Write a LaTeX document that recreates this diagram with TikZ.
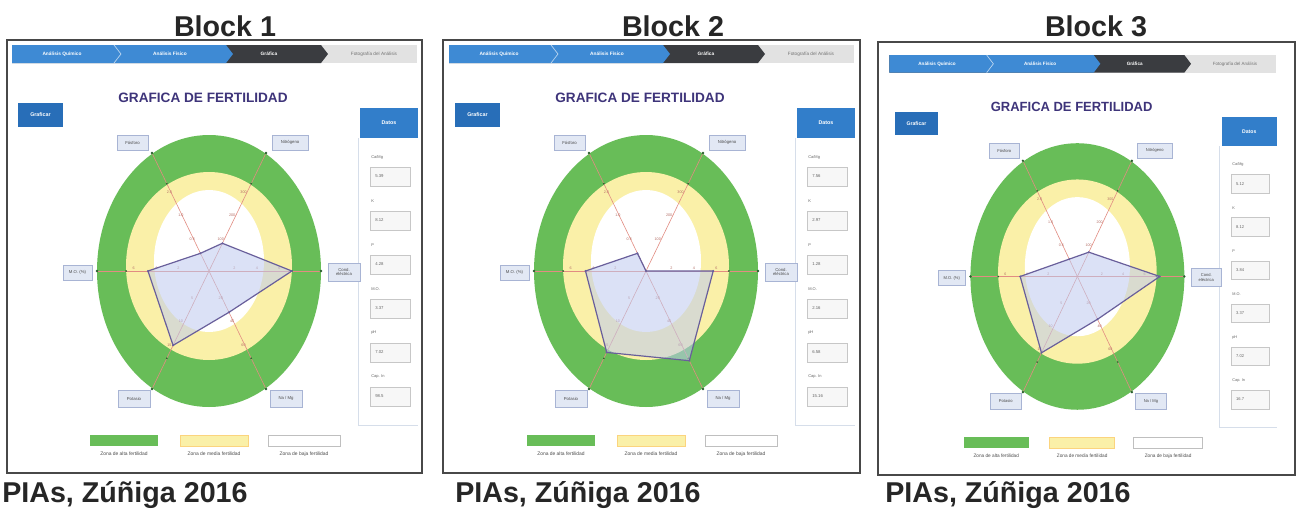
\documentclass[tikz,border=0pt]{standalone}
\usepackage{fontspec}
\setmainfont{Liberation Sans}
\usetikzlibrary{calc}
\definecolor{gring}{RGB}{104,189,88}
\definecolor{yring}{RGB}{250,240,168}
\definecolor{bblue}{RGB}{62,138,212}
\definecolor{btn}{RGB}{40,110,184}
\definecolor{btnb}{RGB}{50,126,202}
\definecolor{darkseg}{RGB}{58,60,64}
\definecolor{greyseg}{RGB}{226,226,226}
\definecolor{ttl}{RGB}{62,52,122}
\definecolor{axisc}{RGB}{226,140,130}
\definecolor{polyl}{RGB}{105,95,155}
\definecolor{polyf}{RGB}{190,202,240}
\definecolor{lblf}{RGB}{226,232,244}
\definecolor{lbld}{RGB}{168,180,212}
\definecolor{framec}{RGB}{72,72,72}
\definecolor{capc}{RGB}{38,38,38}
\definecolor{dotc}{RGB}{40,95,45}
\definecolor{panelc}{RGB}{214,222,234}
\tikzset{
  bigtxt/.style={font=\bfseries\fontsize{21.5}{24}\selectfont, text=capc, inner sep=0pt},
  crumb/.style={font=\bfseries\fontsize{3.6}{4}\selectfont, text=white, inner sep=0pt},
  crumbgrey/.style={font=\fontsize{3.5}{4}\selectfont, text=black!55, inner sep=0pt},
  titletxt/.style={font=\bfseries\fontsize{10.2}{12}\selectfont, text=ttl, inner sep=0pt},
  btntxt/.style={font=\bfseries\fontsize{4}{4.5}\selectfont, text=white, inner sep=0pt},
  fieldlbl/.style={font=\fontsize{3}{3.5}\selectfont, text=black!60, inner sep=0pt},
  fieldval/.style={font=\fontsize{3.2}{3.6}\selectfont, text=black!60, inner sep=0pt},
  fieldbox/.style={fill=black!3, draw=black!22, line width=0.35pt},
  lblbox/.style={fill=lblf, draw=lbld, line width=0.4pt},
  axtxt/.style={font=\fontsize{3.2}{3.5}\selectfont, text=black!70, inner sep=0pt, align=center},
  ticktxt/.style={font=\fontsize{2.8}{3}\selectfont, text=axisc!80!black, inner sep=0pt},
  legtxt/.style={font=\fontsize{3.7}{4}\selectfont, text=black!70, inner sep=0pt},
  axisline/.style={draw=axisc, line width=0.45pt},
  polystyle/.style={draw=polyl, line width=0.9pt, fill=polyf, fill opacity=0.55, line join=round},
  panelline/.style={draw=panelc, line width=0.5pt},
  framestyle/.style={fill=white, draw=framec, line width=1.4pt},
}
\newcommand{\fieldlabel}[1]{\ifcase#1\or Ca/Mg\or K\or P\or M.O.\or pH\or Cap. In\fi}
% #1..#6: fractions on axes L, UL, UR, R, LR, LL ; #7: six values
\newcommand{\fertscreen}[7]{%
  % breadcrumb bar
  \fill[greyseg] (12,45) rectangle (417,63);
  \fill[darkseg] (12,45) -- (321,45) -- (328,54) -- (321,63) -- (12,63) -- cycle;
  \fill[bblue] (12,45) -- (226,45) -- (233,54) -- (226,63) -- (12,63) -- cycle;
  \draw[white!65!bblue, line width=0.5pt] (114,45) -- (121,54) -- (114,63);
  \node[crumb] (c1) at (62,54) {Análisis Químico};
  \node[crumb] (c2) at (170,54) {Análisis Físico};
  \node[crumb] (c3) at (269,54) {Gráfica};
  \node[crumbgrey] (c4) at (374,54) {Fotografía del Análisis};
  % title and buttons
  \node[titletxt] (title) at (203,97.5) {GRAFICA DE FERTILIDAD};
  \fill[btn] (18,103) rectangle (63,127);
  \node[btntxt] (graf) at (40.5,115) {Graficar};
  \fill[btnb] (360,108) rectangle (418,138);
  \node[btntxt] (datos) at (389,123) {Datos};
  % data panel
  \draw[panelline] (358,138) -- (358,425) -- (418,425);
  \foreach \v [count=\i] in {#7} {
    \pgfmathsetmacro\yy{44*(\i-1)}
    \node[fieldlbl, anchor=west] (fl\i) at (371,157+\yy) {\fieldlabel{\i}};
    \draw[fieldbox] (370,167+\yy) rectangle (410,186+\yy);
    \node[fieldval, anchor=west] (fv\i) at (375,176.5+\yy) {\v};
  }
  % fertility zones
  \fill[gring] (209,271) ellipse [x radius=112, y radius=136];
  \fill[yring] (209,266) ellipse [x radius=83, y radius=94];
  \fill[white] (209,261) ellipse [x radius=55, y radius=71];
  % axes
  \coordinate (C) at (209,271);
  \coordinate (eL) at (97,271);
  \coordinate (eR) at (321,271);
  \coordinate (eUL) at (152,153);
  \coordinate (eUR) at (266,153);
  \coordinate (eLL) at (152,389);
  \coordinate (eLR) at (266,389);
  \draw[axisline] (eL) -- (eR);
  \draw[axisline] (eUL) -- (eLR);
  \draw[axisline] (eUR) -- (eLL);
  \foreach \e in {eL,eR,eUL,eUR,eLL,eLR} {
    \fill[dotc] (\e) circle [radius=1.4];
    \fill[dotc] ($(C)!0.74!(\e)$) circle [radius=0.9];
  }
  \foreach \e/\a/\b/\c in {eR/2/4/6, eL/2/4/6, eUL/0.5/1.0/2.0, eUR/100/200/300, eLL/5/10/15, eLR/20/40/60} {
    \node[ticktxt] (tk\e a) at ($(C)!0.25!(\e)+(-2.5,-2.5)$) {\a};
    \node[ticktxt] (tk\e b) at ($(C)!0.45!(\e)+(-2.5,-2.5)$) {\b};
    \node[ticktxt] (tk\e c) at ($(C)!0.65!(\e)+(-2.5,-2.5)$) {\c};
  }
  % data polygon
  \coordinate (vL) at ($(C)!#1!(eL)$);
  \coordinate (vUL) at ($(C)!#2!(eUL)$);
  \coordinate (vUR) at ($(C)!#3!(eUR)$);
  \coordinate (vR) at ($(C)!#4!(eR)$);
  \coordinate (vLR) at ($(C)!#5!(eLR)$);
  \coordinate (vLL) at ($(C)!#6!(eLL)$);
  \filldraw[polystyle] (vL) -- (vUL) -- (vUR) -- (vR) -- (vLR) -- (vLL) -- cycle;
  \foreach \p in {vL,vUL,vUR,vR,vLR,vLL} {\fill[polyl] (\p) circle [radius=1.1];}
  % axis labels
  \draw[lblbox] (117,135) rectangle (148,150);
  \node[axtxt] (aUL) at (132.5,142.5) {Fósforo};
  \draw[lblbox] (272,135) rectangle (308,150);
  \node[axtxt] (aUR) at (290,142.5) {Nitrógeno};
  \draw[lblbox] (63,265) rectangle (92,280);
  \node[axtxt] (aL) at (77.5,272.5) {M.O. (\%)};
  \draw[lblbox] (328,263) rectangle (360,281);
  \node[axtxt] (aR) at (344,272) {Cond.\\eléctrica};
  \draw[lblbox] (118,390) rectangle (150,407);
  \node[axtxt] (aLL) at (134,398.5) {Potasio};
  \draw[lblbox] (270,390) rectangle (302,407);
  \node[axtxt] (aLR) at (286,398.5) {Na / Mg};
  % legend
  \fill[gring] (90,435) rectangle (158,446);
  \filldraw[fill=yring, draw=yring!75!orange, line width=0.35pt] (180,435) rectangle (248,446);
  \filldraw[fill=white, draw=black!25, line width=0.4pt] (268,435) rectangle (340,446);
  \node[legtxt] (lg1) at (124,454) {Zona de alta fertilidad};
  \node[legtxt] (lg2) at (214,454) {Zona de media fertilidad};
  \node[legtxt] (lg3) at (304,454) {Zona de baja fertilidad};
}
\begin{document}
\begin{tikzpicture}[x=0.75pt,y=-0.75pt]
\useasboundingbox (0,0) rectangle (1297,508);
\fill[white] (0,0) rectangle (1297,508);
% headings
\node[bigtxt, anchor=base] (h1) at (225,36) {Block 1};
\node[bigtxt, anchor=base] (h2) at (673,36) {Block 2};
\node[bigtxt, anchor=base] (h3) at (1096,36) {Block 3};
% frames
\filldraw[framestyle] (7,40) rectangle (422,473);
\filldraw[framestyle] (443,40) rectangle (860,473);
\filldraw[framestyle] (878,42) rectangle (1295,475);
% screens
\begin{scope}[name prefix=b1-]
  \fertscreen{0.545}{0.15}{0.235}{0.74}{0.35}{0.63}{5.39,8.12,4.28,3.37,7.02,98.5}
\end{scope}
\begin{scope}[name prefix=b2-, shift={(437,0)}]
  \fertscreen{0.54}{0.15}{0}{0.6}{0.76}{0.69}{7.56,2.97,1.28,2.16,6.58,15.16}
\end{scope}
\begin{scope}[name prefix=b3-, shift={(877.8,10.9)}, xscale=0.955, yscale=0.98, every node/.append style={transform shape}]
  \fertscreen{0.535}{0.15}{0.21}{0.77}{0.37}{0.66}{5.12,8.12,3.84,3.37,7.02,16.7}
\end{scope}
% captions
\node[bigtxt, anchor=base west] (cap1) at (2,502) {PIAs, Zúñiga 2016};
\node[bigtxt, anchor=base west] (cap2) at (455,502) {PIAs, Zúñiga 2016};
\node[bigtxt, anchor=base west] (cap3) at (885,502) {PIAs, Zúñiga 2016};
\end{tikzpicture}
\end{document}
